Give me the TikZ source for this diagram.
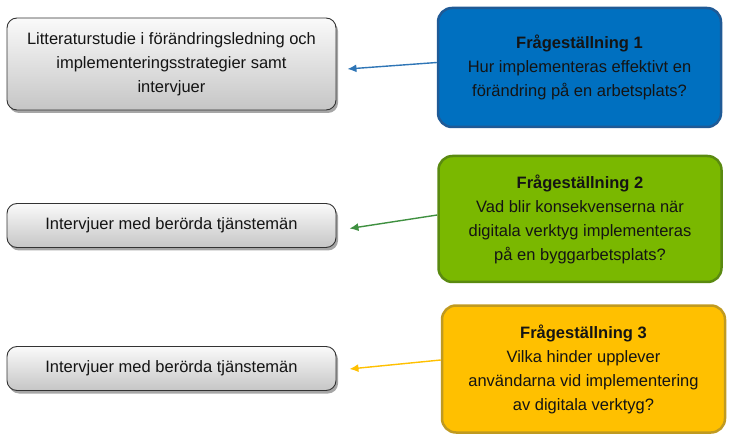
\documentclass[tikz,border=0pt]{standalone}
\usepackage{fontspec}
\setmainfont{Liberation Sans}
\usetikzlibrary{arrows.meta,shadows}
\definecolor{qblue}{HTML}{0070C0}
\definecolor{qblueb}{HTML}{1F5A96}
\definecolor{qgreen}{HTML}{7AB800}
\definecolor{qgreenb}{HTML}{5A8A10}
\definecolor{qyellow}{HTML}{FFC000}
\definecolor{qyellowb}{HTML}{C09A20}
\definecolor{ablue}{HTML}{2E75B6}
\definecolor{agreen}{HTML}{3F9040}
\definecolor{ayellow}{HTML}{FFC000}
\definecolor{txt}{HTML}{141414}
\begin{document}
\begin{tikzpicture}[x=1pt,y=1pt,
  every node/.style={font=\fontsize{16.5}{24}\selectfont, text=txt, align=center},
  graybox/.style={rectangle, rounded corners=10pt, draw=black!80, line width=0.9pt,
    top color=gray!4, bottom color=gray!45, minimum width=329pt,
    drop shadow={shadow xshift=2pt, shadow yshift=-3pt, opacity=0.35, fill=black}},
  qbox/.style={rectangle, rounded corners=14pt, line width=2.5pt, minimum width=283pt},
  arr/.style={line width=1.4pt, -{Latex[length=9pt,width=8pt]}}
]
\useasboundingbox (0,0) rectangle (733,442);
\node[graybox, minimum height=92pt] (l1) at (171.5,378) {Litteraturstudie i förändringsledning och\\implementeringsstrategier samt\\intervjuer};
\node[graybox, minimum height=44pt] (l2) at (171.5,216.5) {Intervjuer med berörda tjänstemän};
\node[graybox, minimum height=44pt] (l3) at (171.5,73.5) {Intervjuer med berörda tjänstemän};
\node[qbox, fill=qblue, draw=qblueb, minimum height=119pt] (r1) at (579.5,374.5) {\textbf{Frågeställning 1}\\Hur implementeras effektivt en\\förändring på en arbetsplats?};
\node[qbox, fill=qgreen, draw=qgreenb, minimum height=126pt] (r2) at (580,223) {\textbf{Frågeställning 2}\\Vad blir konsekvenserna när\\digitala verktyg implementeras\\på en byggarbetsplats?};
\node[qbox, fill=qyellow, draw=qyellowb, minimum height=127pt] (r3) at (583.5,73) {\textbf{Frågeställning 3}\\Vilka hinder upplever\\användarna vid implementering\\av digitala verktyg?};
\draw[arr, ablue] ([yshift=5pt]r1.west) -- ([xshift=11pt,yshift=-5pt]l1.east);
\draw[arr, agreen] ([yshift=4pt]r2.west) -- ([xshift=13pt,yshift=-3pt]l2.east);
\draw[arr, ayellow] ([yshift=9pt]r3.west) -- ([xshift=13pt,yshift=-0.5pt]l3.east);
\end{tikzpicture}
\end{document}
